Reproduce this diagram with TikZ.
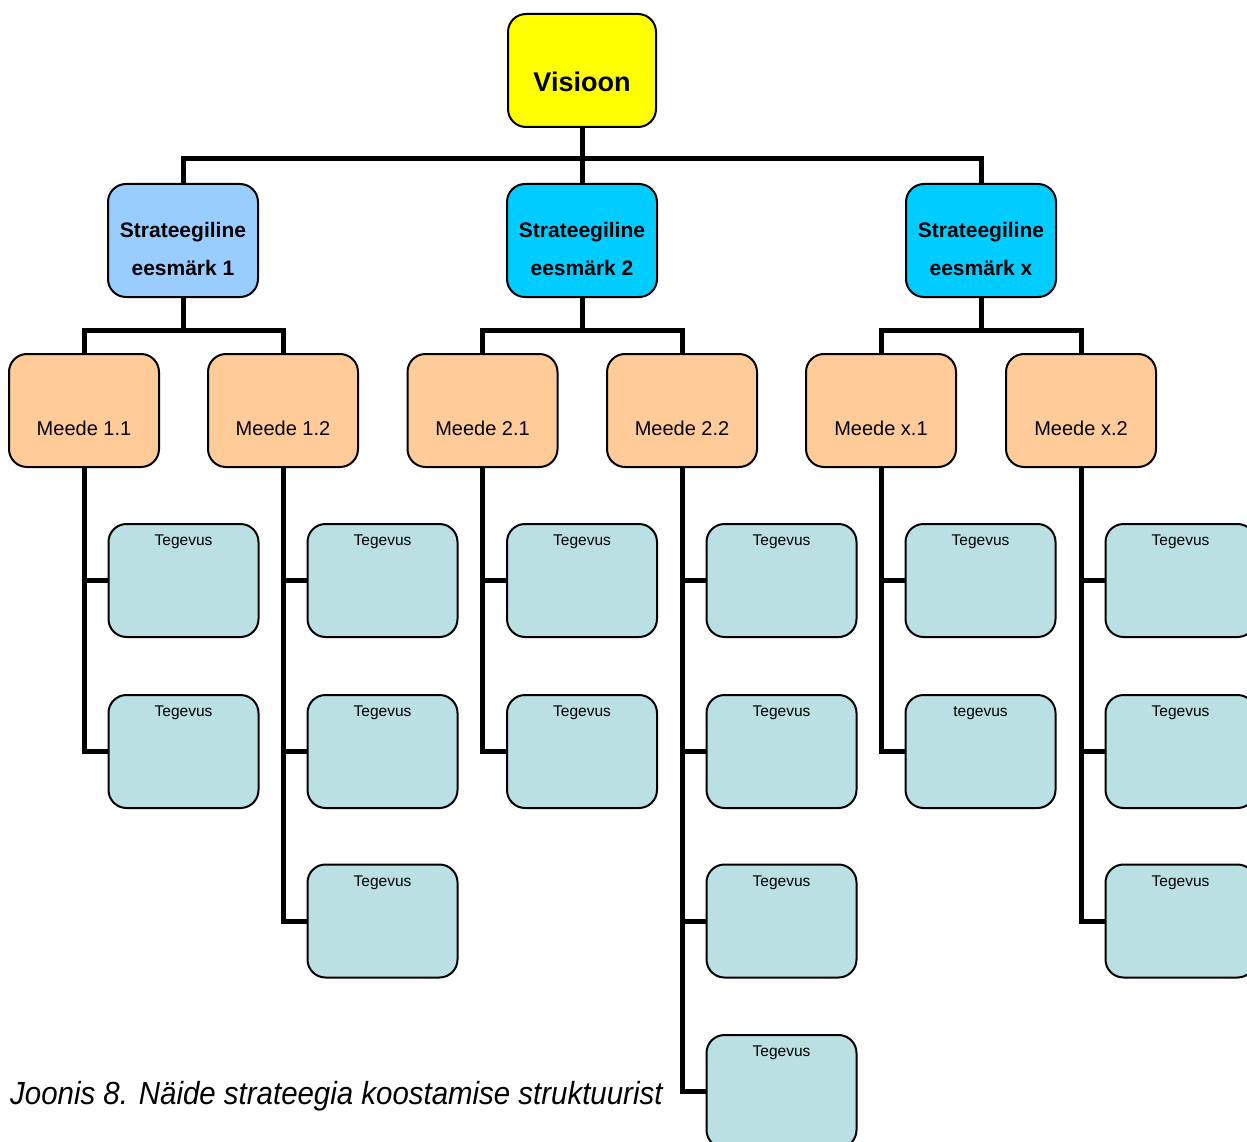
\documentclass[tikz,border=0pt]{standalone}
\usepackage{fontspec}
\setmainfont{Liberation Sans}
\usetikzlibrary{backgrounds}
\definecolor{visy}{HTML}{FFFF00}
\definecolor{sblue}{HTML}{99CCFF}
\definecolor{scyan}{HTML}{00CCFF}
\definecolor{morange}{HTML}{FFCC99}
\definecolor{tteal}{HTML}{BAE0E3}
\tikzset{
  box/.style={draw=black, line width=2pt, rounded corners=18pt, inner sep=0pt, outer sep=0pt, align=center},
  vis/.style={box, fill=visy, minimum width=148pt, minimum height=113pt,
    font=\fontsize{27}{32}\selectfont\bfseries, text height=78pt, text depth=35pt},
  goal/.style={box, minimum width=150pt, minimum height=113pt,
    font=\fontsize{21}{38}\selectfont\bfseries, text height=91pt, text depth=22pt},
  meas/.style={box, fill=morange, minimum width=150pt, minimum height=113pt,
    font=\fontsize{20}{24}\selectfont, text height=81pt, text depth=32pt},
  act/.style={box, fill=tteal, minimum width=150pt, minimum height=113pt,
    font=\fontsize{15.5}{18}\selectfont, text height=21.5pt, text depth=91.5pt},
  conn/.style={draw=black, line width=5pt, line join=miter}
}
\begin{document}
\begin{tikzpicture}[x=1pt,y=-1pt]
\useasboundingbox (0,0) rectangle (1247,1142);
\clip (0,0) rectangle (1247,1142);
% top
\node[vis] (v) at (582,70.5) {Visioon};
\node[goal, fill=sblue] (s1) at (183,240.5) {Strateegiline\\eesmärk 1};
\node[goal, fill=scyan] (s2) at (582,240.5) {Strateegiline\\eesmärk 2};
\node[goal, fill=scyan] (s3) at (981,240.5) {Strateegiline\\eesmärk x};
% measures
\node[meas] (m11) at (84,410.5) {Meede 1.1};
\node[meas] (m12) at (283,410.5) {Meede 1.2};
\node[meas] (m21) at (482.5,410.5) {Meede 2.1};
\node[meas] (m22) at (682,410.5) {Meede 2.2};
\node[meas] (mx1) at (881,410.5) {Meede x.1};
\node[meas] (mx2) at (1081,410.5) {Meede x.2};
% activities
\node[act] (t111) at (183.5,580.5) {Tegevus};
\node[act] (t112) at (183.5,751.5) {Tegevus};
\node[act] (t121) at (382.5,580.5) {Tegevus};
\node[act] (t122) at (382.5,751.5) {Tegevus};
\node[act] (t123) at (382.5,921) {Tegevus};
\node[act] (t211) at (582,580.5) {Tegevus};
\node[act] (t212) at (582,751.5) {Tegevus};
\node[act] (t221) at (781.5,580.5) {Tegevus};
\node[act] (t222) at (781.5,751.5) {Tegevus};
\node[act] (t223) at (781.5,921) {Tegevus};
\node[act] (t224) at (781.5,1091.5) {Tegevus};
\node[act] (tx11) at (980.5,580.5) {Tegevus};
\node[act] (tx12) at (980.5,751.5) {tegevus};
\node[act] (tx21) at (1180.5,580.5) {Tegevus};
\node[act] (tx22) at (1180.5,751.5) {Tegevus};
\node[act] (tx23) at (1180.5,921) {Tegevus};
% caption
\node[anchor=base west, inner sep=0pt, font=\fontsize{32}{36}\selectfont\itshape] (cap) at (10,1104)
  {\scalebox{0.92}[1]{Joonis 8. Näide strateegia koostamise struktuurist}};
% connectors
\begin{scope}[on background layer]
\coordinate (b0) at (582,159);
\draw[conn] (v.south) -- (s2.north);
\draw[conn] (s1.north) |- (b0) -| (s3.north);
\coordinate (b1) at (183,330);
\coordinate (b2) at (582,330);
\coordinate (b3) at (981,330);
\draw[conn] (s1.south) -- (b1);
\draw[conn] (m11.north) |- (b1) -| (m12.north);
\draw[conn] (s2.south) -- (b2);
\draw[conn] (m21.north) |- (b2) -| (m22.north);
\draw[conn] (s3.south) -- (b3);
\draw[conn] (mx1.north) |- (b3) -| (mx2.north);
% activity spines
\draw[conn] (m11.south) |- (t112.west);
\draw[conn] (t111.west) -- (t111.west -| m11.south);
\draw[conn] (m12.south) |- (t123.west);
\draw[conn] (t121.west) -- (t121.west -| m12.south);
\draw[conn] (t122.west) -- (t122.west -| m12.south);
\draw[conn] (m21.south) |- (t212.west);
\draw[conn] (t211.west) -- (t211.west -| m21.south);
\draw[conn] (m22.south) |- (t224.west);
\draw[conn] (t221.west) -- (t221.west -| m22.south);
\draw[conn] (t222.west) -- (t222.west -| m22.south);
\draw[conn] (t223.west) -- (t223.west -| m22.south);
\draw[conn] (mx1.south) |- (tx12.west);
\draw[conn] (tx11.west) -- (tx11.west -| mx1.south);
\draw[conn] (mx2.south) |- (tx23.west);
\draw[conn] (tx21.west) -- (tx21.west -| mx2.south);
\draw[conn] (tx22.west) -- (tx22.west -| mx2.south);
\end{scope}
\end{tikzpicture}
\end{document}
